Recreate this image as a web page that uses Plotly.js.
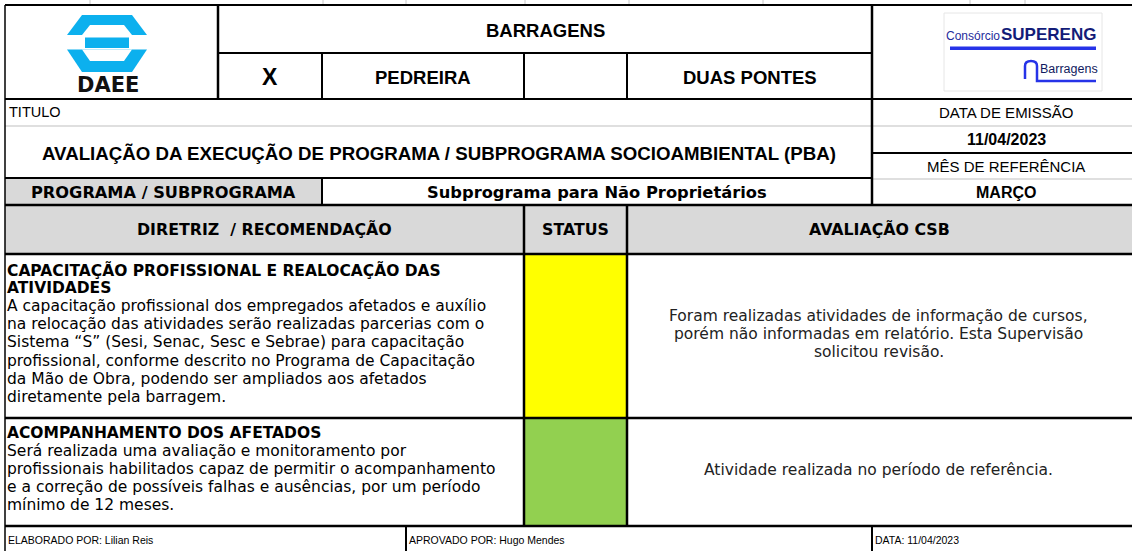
<!DOCTYPE html>
<html>
<head>
<meta charset="utf-8">
<script src="https://cdn.plot.ly/plotly-3.0.1.min.js"></script>
<style>
  html, body { margin: 0; padding: 0; background: #ffffff; }
  #chart { width: 1132px; height: 551px; }
</style>
</head>
<body>
<div id="chart"></div>
<script>
// ---------------- DATA ----------------
const damGroup = 'BARRAGENS';
const siteLabels = ['X', 'PEDREIRA', '', 'DUAS PONTES'];
const titleLabel = 'TITULO';
const docTitle = 'AVALIAÇÃO DA EXECUÇÃO DE PROGRAMA / SUBPROGRAMA SOCIOAMBIENTAL (PBA)';
const infoLabels = ['DATA DE EMISSÃO', '11/04/2023', 'MÊS DE REFERÊNCIA', 'MARÇO'];
const programLabel = 'PROGRAMA / SUBPROGRAMA';
const programName = 'Subprograma para Não Proprietários';
const tableHeaders = ['DIRETRIZ \u00a0/ RECOMENDAÇÃO', 'STATUS', 'AVALIAÇÃO CSB'];
const guidelineTitles = [
  ['CAPACITAÇÃO PROFISSIONAL E REALOCAÇÃO DAS', 'ATIVIDADES'],
  ['ACOMPANHAMENTO DOS AFETADOS']
];
const guidelineTexts = [
  ['A capacitação profissional dos empregados afetados e auxílio',
   'na relocação das atividades serão realizadas parcerias com o',
   'Sistema “S” (Sesi, Senac, Sesc e Sebrae) para capacitação',
   'profissional, conforme descrito no Programa de Capacitação',
   'da Mão de Obra, podendo ser ampliados aos afetados',
   'diretamente pela barragem.'],
  ['Será realizada uma avaliação e monitoramento por',
   'profissionais habilitados capaz de permitir o acompanhamento',
   'e a correção de possíveis falhas e ausências, por um período',
   'mínimo de 12 meses.']
];
const statuses = ['parcial', 'atendido'];
const evaluations = [
  ['Foram realizadas atividades de informação de cursos,',
   'porém não informadas em relatório. Esta Supervisão',
   'solicitou revisão.'],
  ['Atividade realizada no período de referência.']
];
const footerLabels = ['ELABORADO POR: Lilian Reis', 'APROVADO POR: Hugo Mendes', 'DATA: 11/04/2023'];
const logoLeftText = 'DAEE';
const logoRightTexts = ['Consórcio', 'SUPERENG', 'Barragens'];

// ---------------- GEOMETRY / STYLE ----------------
const W = 1132, H = 551;
const GX = {left: 5, logoR: 218, c1: 322, c2: 524, c3: 627, info: 872, right: 1132, foot: 406};
const GY = {top: 5, r1: 53, r2: 99, tit: 126, mid: 153, prog: 178, hdr: 205, body: 254, rows: [254, 418, 526], bottom: 551};
const statusColor = {parcial: '#ffff00', atendido: '#92d050'};
const ARIAL = 'Liberation Sans, Arial, sans-serif';
const VERD = 'DejaVu Sans, Verdana, sans-serif';
const HDRGRAY = '#d9d9d9';
const LINEGRAY = '#d4d4d4';
const BLUE = '#0cb0ee';

const shapes = [];
const ann = [];

function rect(x0, y0, x1, y1, fill, line, layer) {
  shapes.push({type: 'rect', xref: 'x', yref: 'y', x0, y0, x1, y1, fillcolor: fill,
    line: line || {width: 0}, layer: layer || 'below'});
}
function hline(y, x0, x1, color, w) {
  shapes.push({type: 'line', xref: 'x', yref: 'y', x0, x1, y0: y, y1: y, line: {color: color || '#000', width: w || 2}});
}
function vline(x, y0, y1, color, w) {
  shapes.push({type: 'line', xref: 'x', yref: 'y', x0: x, x1: x, y0, y1, line: {color: color || '#000', width: w || 2}});
}
function path(d, fill, line) {
  shapes.push({type: 'path', xref: 'x', yref: 'y', path: d, fillcolor: fill || 'rgba(0,0,0,0)',
    line: line || {width: 0}});
}
function text(t, x, y, opts) {
  opts = opts || {};
  ann.push({text: opts.bold ? '<b>' + t + '</b>' : t, x, y, xref: 'x', yref: 'y', showarrow: false,
    xanchor: opts.anchor || 'center', yanchor: 'middle', borderpad: 0,
    font: {family: opts.family || ARIAL, size: opts.size || 14, color: opts.color || '#000'}});
}

// fills
rect(GX.left, GY.prog, GX.c1, GY.hdr, HDRGRAY);
rect(GX.left, GY.hdr, GX.right, GY.body, HDRGRAY);
statuses.forEach((s, i) => rect(GX.c2, GY.rows[i], GX.c3, GY.rows[i + 1], statusColor[s]));

// spreadsheet ticks at top
[90, 323, 406, 525, 629, 763, 970, 1025].forEach(x => vline(x, 0, GY.top, '#c8c8c8', 1));

// light gray lines
hline(GY.tit, GX.left, GX.right, LINEGRAY, 1.5);
hline(GY.prog + 1, GX.info, GX.right, LINEGRAY, 1.5);

// black lines
hline(GY.top, GX.left, GX.right);
hline(GY.r1, GX.logoR, GX.info);
hline(GY.r2, GX.left, GX.right);
hline(GY.mid, GX.info, GX.right);
hline(GY.prog, GX.left, GX.info);
hline(GY.hdr, GX.left, GX.right, '#000', 2.5);
GY.rows.forEach(y => hline(y, GX.left, GX.right, '#000', 2.5));
vline(GX.left, GY.top, GY.bottom, '#000', 1.5);
vline(GX.logoR, GY.top, GY.r2, '#000', 2.5);
vline(GX.info, GY.top, GY.hdr, '#000', 2.5);
vline(GX.info, GY.rows[2], GY.bottom, '#000', 2);
[GX.c1, GX.c2, GX.c3].forEach(x => vline(x, GY.r1, GY.r2, '#000', 2));
vline(GX.c1, GY.prog, GY.hdr, '#000', 2);
vline(GX.c2, GY.hdr, GY.rows[2], '#000', 2.5);
vline(GX.c3, GY.hdr, GY.rows[2], '#000', 2.5);
vline(GX.foot, GY.rows[2], GY.bottom, '#000', 2);

// DAEE logo
path('M 82 15 L 132 15 L 147 35 L 67 35 Z', BLUE);
path('M 90 25 L 124 25 L 132 35 L 82 35 Z', '#ffffff');
rect(85, 37.5, 129, 48, BLUE, null, 'above');
path('M 67 49.5 L 147 49.5 L 132 72 L 82 72 Z', BLUE);
path('M 82 49.5 L 132 49.5 L 124 61 L 90 61 Z', '#ffffff');
text(logoLeftText, 108, 85, {bold: true, family: VERD, size: 21, color: '#111'});

// SUPERENG logo
shapes.push({type: 'rect', xref: 'x', yref: 'y', x0: 944, y0: 13, x1: 1102, y1: 91,
  fillcolor: 'rgba(0,0,0,0)', line: {color: '#e6e6e6', width: 1}});
shapes.push({type: 'rect', xref: 'x', yref: 'y', x0: 950, y0: 46.5, x1: 1096, y1: 50,
  fillcolor: '#2633e8', line: {width: 0}});
path('M 1025 79 L 1025 66 Q 1025 61 1031 61 Q 1037 61 1037 66 L 1037 81 L 1096 81', null,
  {color: '#2633e8', width: 2.5});
text(logoRightTexts[0], 945, 36, {anchor: 'left', size: 12, color: '#1f2c9c'});
text(logoRightTexts[1], 1000, 34, {anchor: 'left', size: 17, bold: true, color: '#131c78'});
text(logoRightTexts[2], 1039, 69, {anchor: 'left', size: 12.5, color: '#111a60'});

// header texts
text(damGroup, (GX.logoR + GX.info) / 2, 30, {bold: true, size: 18.5});
const siteCols = [GX.logoR, GX.c1, GX.c2, GX.c3, GX.info];
siteLabels.forEach((s, i) => {
  if (!s) return;
  text(s, (siteCols[i] + siteCols[i + 1]) / 2, 77, {bold: true, size: i === 0 ? 23 : 18.5});
});
text(titleLabel, 8, 112, {anchor: 'left', size: 14.5});
text(docTitle, (GX.left + GX.info) / 2, 153, {bold: true, size: 18.7});
const infoY = [112, 139, 166, 192];
infoLabels.forEach((s, i) => text(s, 1006, infoY[i], {bold: i % 2 === 1, size: i % 2 === 1 ? 16 : 15}));
text(programLabel, (GX.left + GX.c1) / 2, 192, {bold: true, family: VERD, size: 16.2});
text(programName, (GX.c1 + GX.info) / 2, 192, {bold: true, family: VERD, size: 16.3});

const hdrCols = [GX.left, GX.c2, GX.c3, GX.right];
tableHeaders.forEach((h, i) => text(h, (hdrCols[i] + hdrCols[i + 1]) / 2, 229, {bold: true, family: VERD, size: 15.8}));

// body rows
const LH = 18.1;
const firstLine = [270, 433];
guidelineTitles.forEach((titles, r) => {
  const lines = titles.map(t => ({t, b: true})).concat(guidelineTexts[r].map(t => ({t, b: false})));
  lines.forEach((ln, i) => text(ln.t, 6, firstLine[r] + i * LH,
    {anchor: 'left', family: VERD, size: 15.5, bold: ln.b}));
  const ev = evaluations[r];
  const cy = (GY.rows[r] + GY.rows[r + 1]) / 2 - 2;
  const ELH = 18;
  ev.forEach((t, i) => text(t, (GX.c3 + GX.right) / 2 - 1, cy + (i - (ev.length - 1) / 2) * ELH,
    {family: VERD, size: 15.5, color: '#222'}));
});

// footer
const footX = [7, GX.foot + 2, GX.info + 2];
footerLabels.forEach((f, i) => text(f, footX[i], 540, {anchor: 'left', size: 10.5}));

const layout = {
  width: W, height: H,
  margin: {l: 0, r: 0, t: 0, b: 0, pad: 0},
  paper_bgcolor: '#ffffff', plot_bgcolor: '#ffffff',
  showlegend: false,
  xaxis: {range: [0, W], visible: false, fixedrange: true},
  yaxis: {range: [H, 0], visible: false, fixedrange: true},
  shapes: shapes,
  annotations: ann
};
Plotly.newPlot('chart', [{type: 'scatter', x: [], y: [], hoverinfo: 'skip'}], layout,
  {staticPlot: true, displayModeBar: false});
</script>
</body>
</html>
